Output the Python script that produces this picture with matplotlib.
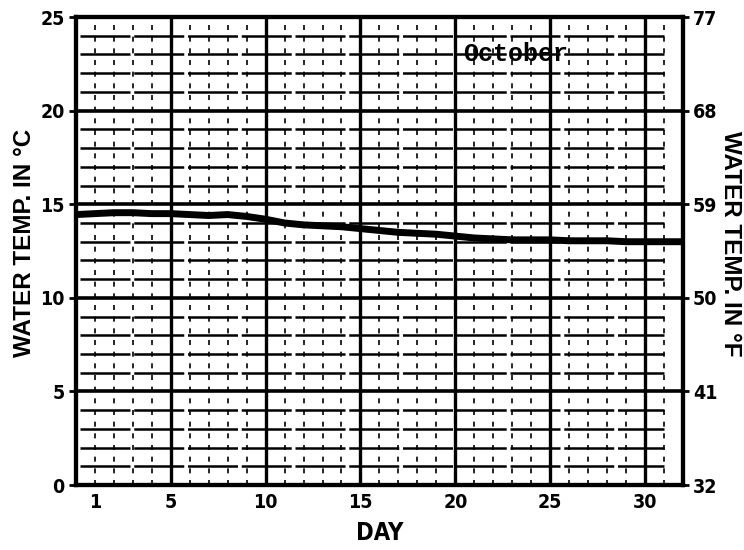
import matplotlib
matplotlib.use('Agg')
import matplotlib.pyplot as plt

# Daily water temperature (deg C)
days = [0, 1, 2, 3, 4, 5, 6, 7, 8, 9, 10, 11, 12, 13, 14, 15, 16,
        17, 18, 19, 20, 21, 22, 23, 24, 25, 26, 27, 28, 29, 30, 31, 32]
temp_c = [14.45, 14.5, 14.55, 14.55, 14.5, 14.5, 14.45, 14.4, 14.45, 14.35,
          14.2, 14.0, 13.9, 13.85, 13.8, 13.7, 13.6, 13.5, 13.45, 13.4,
          13.3, 13.2, 13.15, 13.1, 13.1, 13.1, 13.05, 13.05, 13.05, 13.0,
          13.0, 13.0, 13.0]

day_ticks = [1, 5, 10, 15, 20, 25, 30]
c_ticks = [0, 5, 10, 15, 20, 25]
f_ticks = [32, 41, 50, 59, 68, 77]

fig = plt.figure(figsize=(7.44, 5.5), dpi=100)
ax = fig.add_axes([0.102, 0.118, 0.816, 0.851])
ax.set_xlim(0, 32)
ax.set_ylim(0, 25)

# chart paper grid
for d in range(1, 32):
    if d % 5:
        ax.axvline(d, color='black', lw=1.2, ls=(0, (3, 4)), zorder=1)
for t in range(1, 25):
    if t % 5:
        ax.hlines(t, 0.2, 31, color='black', lw=1.8, ls=(0, (20, 1.5)), zorder=2)
for d in range(5, 31, 5):
    ax.axvline(d, color='black', lw=2.4, zorder=3)
for t in range(5, 25, 5):
    ax.axhline(t, color='black', lw=2.6, zorder=3)

ax.plot(days, temp_c, color='black', lw=5, solid_capstyle='butt', zorder=4)

ax.text(23.2, 23.05, 'October', family='Liberation Mono', fontweight='bold',
        fontsize=18, ha='center', va='center', zorder=5)

for s in ax.spines.values():
    s.set_linewidth(3)

tick_font = dict(family='DejaVu Sans', fontweight='bold', fontstretch='condensed', fontsize=14)
ax.set_xticks(day_ticks)
ax.set_xticklabels([str(d) for d in day_ticks], **tick_font)
ax.set_yticks(c_ticks)
ax.set_yticklabels([str(c) for c in c_ticks], **tick_font)
ax.tick_params(axis='x', length=0, pad=6)
ax.tick_params(axis='y', length=5, width=2, pad=3)

ax.set_xlabel('DAY', family='DejaVu Sans', fontweight='bold',
              fontstretch='condensed', fontsize=17, labelpad=6)
ax.set_ylabel('WATER TEMP. IN °C', family='Liberation Sans', fontweight='bold',
              fontsize=17.5, va='center')
ax.yaxis.set_label_coords(-0.085, 0.517)

ax2 = ax.twinx()
ax2.set_ylim(32, 77)
ax2.set_yticks(f_ticks)
ax2.set_yticklabels([str(f) for f in f_ticks], **tick_font)
ax2.tick_params(axis='y', length=4, width=2, pad=3)
for s in ax2.spines.values():
    s.set_linewidth(3)
ax2.set_ylabel('WATER TEMP. IN °F', family='Liberation Sans', fontweight='bold',
               fontsize=17.5, rotation=-90, va='center')
ax2.yaxis.set_label_coords(1.078, 0.515)

fig.savefig('out.png', dpi=100)
